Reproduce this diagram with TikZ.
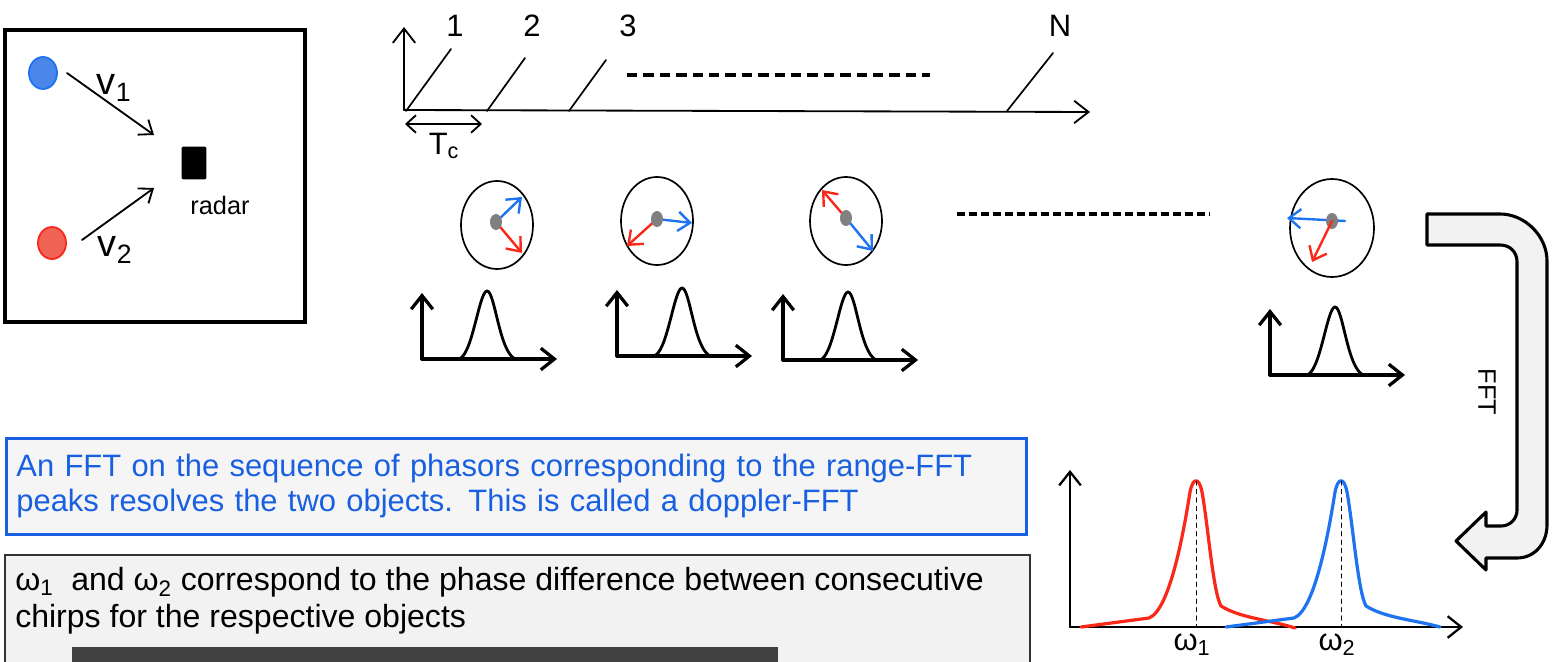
\documentclass[tikz,border=0pt]{standalone}
\usepackage{fontspec}
\setmainfont{Liberation Sans}
\usepackage{xcolor}
\usetikzlibrary{arrows.meta,positioning,shapes.geometric,calc}

\definecolor{objblue}{RGB}{30,115,240}
\definecolor{objred}{RGB}{250,40,25}
\definecolor{dotblue}{RGB}{75,135,235}
\definecolor{dotred}{RGB}{240,100,85}
\definecolor{noteblue}{RGB}{25,95,225}
\definecolor{paper}{RGB}{242,242,242}
\definecolor{subbar}{RGB}{64,64,64}

\newcommand{\bigtext}{\fontsize{22}{25}\selectfont}

\tikzset{
  rfft/.pic={
    \draw[plotaxis] (0,0) -- (0,-66);
    \draw[plotaxis] (0,0) -- (135,0);
    \draw[line width=2pt] (0,0) -- (36,0) .. controls (50,0) and (57,-68) .. (65,-68)
      .. controls (73,-68) and (77,-8) .. (93,0);
  }
}

\begin{document}
\begin{tikzpicture}[x=0.25mm, y=-0.25mm, line cap=round,
  ax/.style={-{Straight Barb[length=3.6mm,width=5.6mm]}, line width=1.3pt},
  plotaxis/.style={-{Straight Barb[length=3.4mm,width=5.4mm]}, line width=2.3pt},
  velo/.style={-{Straight Barb[length=3mm,width=4.6mm]}, line width=1.3pt},
  chirp/.style={line width=1.2pt},
  dotline/.style={line width=0.9mm, dash pattern=on 2.6mm off 1.5mm, line cap=butt},
  phasor/.style={draw, ellipse, line width=1.2pt, minimum width=18mm, minimum height=22mm, inner sep=0pt},
  hubdot/.style={fill=gray, ellipse, minimum width=3mm, minimum height=4mm, inner sep=0pt},
  bluevec/.style={-{Straight Barb[length=3mm,width=4.8mm]}, line width=1.7pt, objblue},
  redvec/.style={-{Straight Barb[length=3mm,width=4.8mm]}, line width=1.7pt, objred},
  target/.style={ellipse, line width=1.3pt, minimum width=7mm, minimum height=8mm, inner sep=0pt},
  fftarrow/.style={draw, line width=2.2pt, fill=paper, line join=round},
  spec/.style={line width=2.3pt, line join=round},
  lbl/.style={font=\bigtext, inner sep=0pt},
  notebox/.style={draw=noteblue, line width=2pt, fill=white!96!black, text=noteblue,
    font=\bigtext, align=left, text width=250mm, inner xsep=2.5mm, minimum height=24mm}
]
\useasboundingbox (0,0) rectangle (1564,662);

% scene: two objects and the radar
\node[draw, line width=2.6pt, minimum width=75mm, minimum height=73mm, inner sep=0pt] (scene) at (155,176) {};
\node[target, draw=objblue, fill=dotblue] (obj1) at (43,73) {};
\node[target, draw=objred, fill=dotred] (obj2) at (52,243) {};
\node[fill=black, rounded corners=0.5mm, minimum width=6.2mm, minimum height=8.2mm, inner sep=0pt] (radar) at (194,163) {};
\node[lbl, font=\fontsize{18}{20}\selectfont] (radarlbl) at (220,205) {radar};
\coordinate (v1tail) at (67,73);
\coordinate (v1head) at (154,135);
\coordinate (v2tail) at (82,240);
\coordinate (v2head) at (154,188);
\draw[velo] (v1tail) -- (v1head);
\draw[velo] (v2tail) -- (v2head);
\node[lbl, font=\fontsize{27}{30}\selectfont] (v1) at (114,88) {v\textsubscript{1}};
\node[lbl, font=\fontsize{27}{30}\selectfont] (v2) at (115,250) {v\textsubscript{2}};

% chirp train
\coordinate (t0) at (404,110);
\coordinate (ttop) at (404,27);
\coordinate (tend) at (1090,112);
\draw[ax] (t0) -- (ttop);
\draw[ax] (t0) -- (tend);
\foreach \s/\e/\ey/\lx/\l in {406/451/49/455/1, 487/525/58/532/2, 569/606/60/628/3, 1007/1053/53/1060/N}{
  \coordinate (c\l) at (\s,111);
  \coordinate (ct\l) at (\e,\ey);
  \draw[chirp] (c\l) -- (ct\l);
  \node[lbl] (n\l) at (\lx,26) {\l};
}
\draw[dotline] (627,75) -- (930,75);
\coordinate (tc0) at (405,124);
\coordinate (tc1) at (482,124);
\draw[{Straight Barb[length=2.4mm,width=4.4mm]}-{Straight Barb[length=2.4mm,width=4.4mm]}, line width=1.3pt] (tc0) -- (tc1);
\node[lbl] (tc) at (444,146) {T\textsubscript{c}};

% phasors of the range-FFT peaks
\foreach \i/\cx/\cy/\hx/\hy/\bx/\by/\rx/\ry in {1/497/225/496/222/522/197/522/253,
    2/657/221/657/219/692/223/627/246, 3/846/221/846/218/873/251/822/190}{
  \node[phasor] (ph\i) at (\cx,\cy) {};
  \coordinate (hub\i) at (\hx,\hy);
  \coordinate (bt\i) at (\bx,\by);
  \coordinate (rt\i) at (\rx,\ry);
  \draw[bluevec] (hub\i) -- (bt\i);
  \draw[redvec] (hub\i) -- (rt\i);
  \node[hubdot] (hd\i) at (hub\i) {};
}
\node[phasor, minimum width=21mm, minimum height=24.5mm] (ph4) at (1332,228) {};
\coordinate (hub4) at (1332,221);
\coordinate (bs4) at (1345,221);
\coordinate (bt4) at (1287,218);
\coordinate (rt4) at (1312,262);
\draw[bluevec] (bs4) -- (bt4);
\node[hubdot] (hd4) at (hub4) {};
\draw[redvec] (hub4) -- (rt4);
\draw[dotline, line width=0.9mm, dash pattern=on 2mm off 1mm] (957,214) -- (1210,214);

% range-FFT of each chirp
\pic (plot1) at (422,359) {rfft};
\pic (plot2) at (617,356) {rfft};
\pic (plot3) at (783,360) {rfft};
\pic (plot4) at (1270,375) {rfft};

% curved FFT arrow
\draw[fftarrow] (1427,214) -- (1500,214) .. controls (1525,214) and (1547,236) .. (1547,261)
  -- (1547,525) .. controls (1547,543) and (1535,558) .. (1517,558)
  -- (1486,558) -- (1486,570) -- (1456,541) -- (1486,512) -- (1486,526)
  -- (1501,526) .. controls (1510,526) and (1517,519) .. (1517,510)
  -- (1517,262) .. controls (1517,252) and (1510,245) .. (1500,245)
  -- (1427,245) -- cycle;
\node[lbl, font=\fontsize{18}{20}\selectfont, rotate=-90] (fft) at (1487,392) {FFT};

% doppler spectrum
\coordinate (s0) at (1070,627);
\coordinate (stop) at (1070,470);
\coordinate (send) at (1463,627);
\draw[plotaxis, line width=1.6pt] (s0) -- (stop);
\draw[plotaxis, line width=1.6pt] (s0) -- (send);
\draw[spec, objred] (1081,627) -- (1149,618) .. controls (1170,610) and (1184,530) .. (1190,492)
  .. controls (1193,477) and (1199,477) .. (1202,492) .. controls (1208,525) and (1213,592) .. (1221,606)
  .. controls (1240,618) and (1270,620) .. (1295,628);
\draw[spec, objblue] (1226,627) -- (1294,618) .. controls (1315,610) and (1329,530) .. (1335,492)
  .. controls (1338,477) and (1344,477) .. (1347,492) .. controls (1353,525) and (1358,592) .. (1366,606)
  .. controls (1385,618) and (1415,620) .. (1440,627);
\coordinate (w1top) at (1196,481);
\coordinate (w1bot) at (1196,627);
\coordinate (w2top) at (1341,481);
\coordinate (w2bot) at (1341,627);
\draw[dashed, line width=0.7pt] (w1top) -- (w1bot);
\draw[dashed, line width=0.7pt] (w2top) -- (w2bot);
\node[lbl] (w1) at (1192,645) {ω\textsubscript{1}};
\node[lbl] (w2) at (1337,645) {ω\textsubscript{2}};

% notes
\node[notebox, anchor=north west] (doppler) at (5,437)
  {An FFT on the sequence of phasors corresponding to the range-FFT\\
   peaks resolves the two objects. This is called a doppler-FFT};
\draw[line width=1.5pt, draw=black!80, fill=paper] (5,555) rectangle (1030,700);
\node[lbl, font=\fontsize{22.8}{26}\selectfont, align=left, anchor=north west] (phasediff) at (15,567)
  {ω\textsubscript{1}\ \ and ω\textsubscript{2} correspond to the phase difference between consecutive\\
   chirps for the respective objects};
\fill[subbar] (72,647) rectangle (778,700);
\end{tikzpicture}
\end{document}
